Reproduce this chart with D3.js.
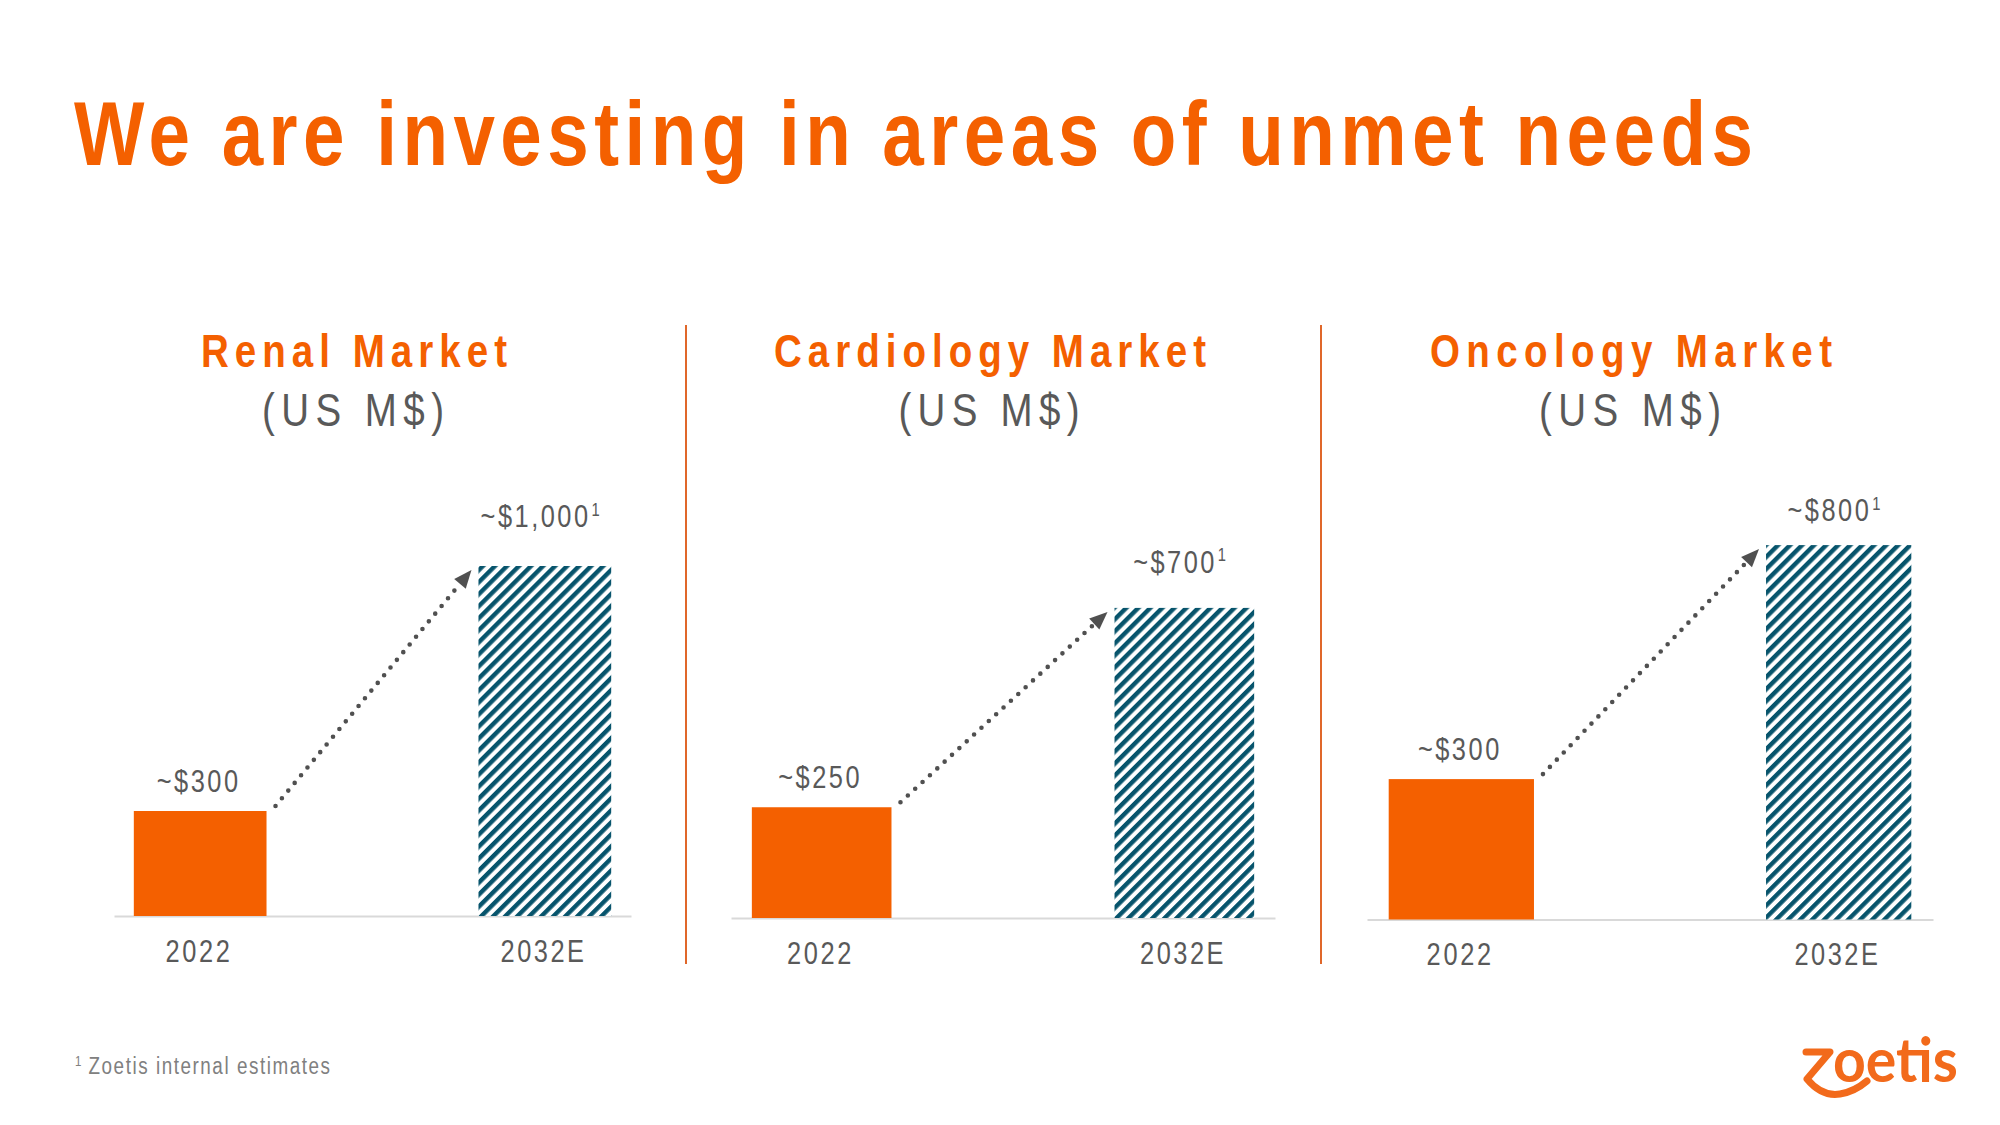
<!DOCTYPE html>
<html><head><meta charset="utf-8">
<script src="https://cdn.jsdelivr.net/npm/d3@7"></script>
<style>html,body{margin:0;padding:0;background:#fff;} svg{display:block}</style>
</head><body><svg id="c" width="2000" height="1125"></svg>
<script>
// ---------- data ----------
const title = "We are investing in areas of unmet needs";
const markets = ["Renal Market", "Cardiology Market", "Oncology Market"];
const unitLabel = "(US M$)";
const categories = ["2022", "2032E"];
const values2022 = [300, 250, 300];
const values2032 = [1000, 700, 800];
const labels2022 = ["~$300", "~$250", "~$300"];
const labels2032 = ["~$1,000", "~$700", "~$800"];
const footnoteMark = "1";
const footnote = "Zoetis internal estimates";
const logoText = "oetis";

// ---------- layout (positions only) ----------
const panels = [
  {x0: 114, x1: 631, axisY: 916, h1000: 350, titleX: 354, hiGap: 39, loGap: 19},
  {x0: 731, x1: 1275, axisY: 918, h1000: 443, titleX: 990, hiGap: 35, loGap: 19},
  {x0: 1367, x1: 1933, axisY: 919.5, h1000: 468, titleX: 1631, hiGap: 24, loGap: 19}
];
const dividerX = [686, 1321];
const titleWidths = [306, 432, 402];
const unitWidths = [182, 181, 182];

const ORANGE = "#F46000", TEAL = "#07546C", GRAY = "#595959";
const FONT = "'Liberation Sans',Arial,sans-serif";
const NX = 0.82; // horizontal condensing factor

const svg = d3.select("#c");
const defs = svg.append("defs");
const pat = defs.append("pattern").attr("id", "hatch")
  .attr("patternUnits", "userSpaceOnUse").attr("width", 8.5).attr("height", 8.5)
  .attr("patternTransform", "rotate(45)");
pat.append("rect").attr("width", 8.5).attr("height", 8.5).attr("fill", "#fff");
pat.append("rect").attr("width", 4.4).attr("height", 8.5).attr("fill", TEAL);

// condensed, letter-spaced text helper
function ntext(parent, x, y, str, o) {
  const g = parent.append("g").attr("transform", `translate(${x},${y}) scale(${NX},1)`);
  const t = g.append("text").attr("x", 0).attr("y", 0)
    .attr("text-anchor", o.anchor || "start")
    .attr("font-family", FONT).attr("font-weight", o.weight || 400)
    .attr("font-size", o.size).attr("fill", o.fill);
  if (o.width) t.attr("textLength", o.width / NX).attr("lengthAdjust", "spacing");
  if (o.ls) t.attr("letter-spacing", o.ls / NX);
  if (str !== null) t.text(str);
  return t;
}

// title
ntext(svg, 74, 165, title, {size: 91, weight: 700, fill: ORANGE, width: 1679});

// dividers
svg.selectAll("line.div").data(dividerX).join("line").attr("class", "div")
  .attr("x1", d => d).attr("x2", d => d).attr("y1", 325).attr("y2", 964)
  .attr("stroke", "#E0672A").attr("stroke-width", 2);

panels.forEach((p, i) => {
  const g = svg.append("g");
  const x = d3.scalePoint().domain(categories).range([p.x0, p.x1]).padding(0.25);
  const bw = x.step() * 0.385;
  const y = d3.scaleLinear().domain([0, 1000]).range([p.axisY, p.axisY - p.h1000]);
  const vals = [values2022[i], values2032[i]];

  // panel title
  ntext(g, p.titleX, 367, markets[i], {size: 47, weight: 700, fill: ORANGE, anchor: "middle", width: titleWidths[i]});
  ntext(g, p.titleX - 1, 425.5, unitLabel, {size: 47, fill: GRAY, anchor: "middle", width: unitWidths[i]});

  // axis baseline + category labels
  const axis = d3.axisBottom(x).tickSize(0).tickPadding(0);
  const ag = g.append("g").attr("transform", `translate(0,${p.axisY})`).call(axis);
  ag.select(".domain").attr("stroke", "#D9D9D9").attr("stroke-width", 2);
  ag.selectAll(".tick text").attr("dy", 0).attr("y", 46)
    .attr("transform", `translate(-3,0) scale(${NX},1)`)
    .attr("font-family", FONT).attr("font-size", 31).attr("fill", GRAY)
    .attr("textLength", d => (d === "2022" ? 64.5 : 83.5) / NX).attr("lengthAdjust", "spacing");

  // bars
  g.selectAll("rect.bar").data(categories).join("rect").attr("class", "bar")
    .attr("x", d => x(d) - bw / 2).attr("width", bw)
    .attr("y", (d, j) => y(vals[j])).attr("height", (d, j) => p.axisY - y(vals[j]))
    .attr("fill", (d, j) => j === 0 ? ORANGE : "url(#hatch)");

  // value labels
  ntext(g, x(categories[0]) - 1.5, y(vals[0]) - p.loGap, labels2022[i],
    {size: 31, fill: GRAY, anchor: "middle", ls: 2.5});
  const ht = ntext(g, x(categories[1]) - 3.5, y(vals[1]) - p.hiGap, null,
    {size: 31, fill: GRAY, anchor: "middle", ls: 2.5});
  ht.append("tspan").text(labels2032[i]);
  ht.append("tspan").attr("font-size", 18).attr("dy", -11.5).attr("dx", 1).text(footnoteMark);

  // dotted arrow
  const sx = x(categories[0]) + bw / 2 + 9, sy = y(vals[0]) - 5;
  const ex = x(categories[1]) - bw / 2 - 7, ey = y(vals[1]) + 4;
  const ang = Math.atan2(ey - sy, ex - sx);
  const hl = 18, hw = 7.5;
  const bx = ex - hl * Math.cos(ang), by = ey - hl * Math.sin(ang);
  g.append("line").attr("x1", sx).attr("y1", sy).attr("x2", bx).attr("y2", by)
    .attr("stroke", "#505050").attr("stroke-width", 4.6).attr("stroke-linecap", "round")
    .attr("stroke-dasharray", "0 10");
  const px = -Math.sin(ang), py = Math.cos(ang);
  g.append("path")
    .attr("d", d3.line()([[ex, ey], [bx + px * hw, by + py * hw], [bx - px * hw, by - py * hw]]) + "Z")
    .attr("fill", "#505050");
});

// footnote
ntext(svg, 75, 1066, footnoteMark, {size: 14, fill: "#808080"});
ntext(svg, 88.5, 1074, footnote, {size: 23, fill: "#808080", width: 241.5});

// logo
const LOGO = "#F26A1B";
svg.append("path")
  .attr("d", "M1806,1052 L1830,1052 L1807,1079 C1817,1091 1828,1096 1840,1094 C1852,1092 1860,1087 1867,1081")
  .attr("fill", "none").attr("stroke", LOGO).attr("stroke-width", 7)
  .attr("stroke-linejoin", "round").attr("stroke-linecap", "round");
svg.append("text").attr("x", 1833).attr("y", 1082).attr("font-family", "Lato,'Open Sans',sans-serif")
  .attr("font-weight", 700).attr("font-size", 62).attr("fill", LOGO)
  .attr("textLength", 125).attr("lengthAdjust", "spacingAndGlyphs").text(logoText);
</script>
</body></html>
